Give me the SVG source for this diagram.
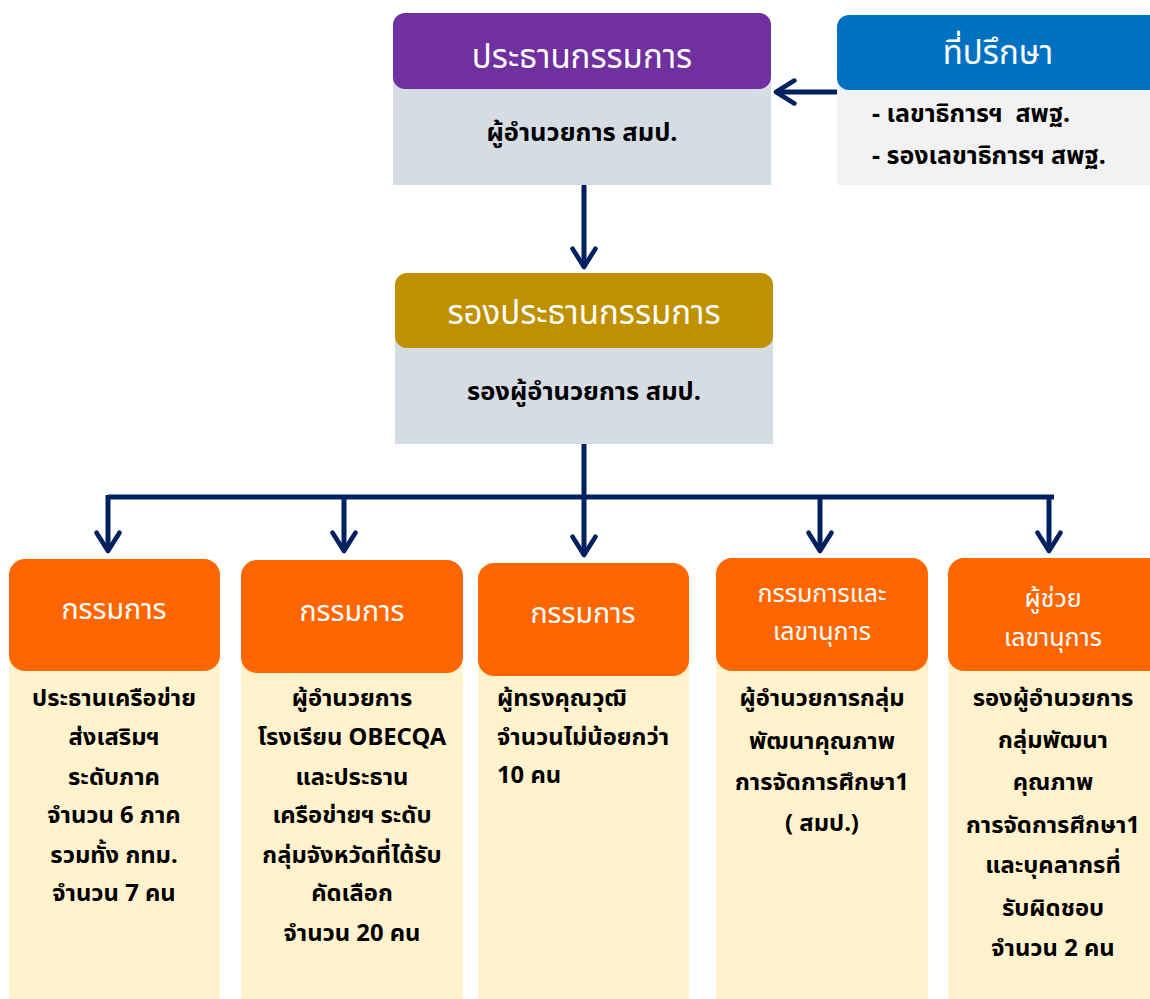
<svg xmlns="http://www.w3.org/2000/svg" width="1150" height="999" viewBox="0 0 1150 999">
<defs>
<style>
text{font-family:"Noto Sans","Noto Sans Thai","DejaVu Sans",sans-serif;}
.h{fill:#fff;font-size:33px;text-anchor:middle;}
.hs{fill:#fff;font-size:28.5px;text-anchor:middle;}
.hs2{fill:#fff;font-size:25px;text-anchor:middle;}
.t{fill:#000;font-size:25.5px;font-weight:bold;text-anchor:middle;}
.tl{fill:#000;font-size:25px;font-weight:bold;}
.b{fill:#000;font-size:23.8px;font-weight:bold;text-anchor:middle;}
.bl{fill:#000;font-size:23.8px;font-weight:bold;}
.c{fill:none;stroke:#002060;stroke-width:5;}
.bodyg{fill:#D6DCE4;}
.bodyy{fill:#FFF2CC;}
.org{fill:#FF6600;}
</style>
<marker id="ah" viewBox="0 0 12 12" refX="9" refY="6" markerWidth="5.5" markerHeight="5.5" orient="auto" markerUnits="strokeWidth">
<path d="M1,1 L9,6 L1,11" fill="none" stroke="#002060" stroke-width="2" stroke-linecap="round" stroke-linejoin="round"/>
</marker>
</defs>
<rect width="1150" height="999" fill="#fff"/>
<g id="connectors">
<path class="c" d="M837,92 L776,92" marker-end="url(#ah)"/>
<path class="c" d="M584,185 L584,267" marker-end="url(#ah)"/>
<path class="c" d="M584,444 L584,555" marker-end="url(#ah)"/>
<path class="c" d="M108,497 L1054,497"/>
<path class="c" d="M108,495 L108,551" marker-end="url(#ah)"/>
<path class="c" d="M344,495 L344,551" marker-end="url(#ah)"/>
<path class="c" d="M820,495 L820,551" marker-end="url(#ah)"/>
<path class="c" d="M1049,495 L1049,551" marker-end="url(#ah)"/>
</g>
<g id="chair">
<rect class="bodyg" x="393" y="60" width="378" height="125"/>
<rect x="393" y="13" width="378" height="76" rx="12" fill="#7030A0"/>
<text class="h" x="582" y="68">ประธานกรรมการ</text>
<text class="t" x="582" y="141">ผู้อำนวยการ สมป.</text>
</g>
<g id="advisor">
<rect x="837" y="60" width="313" height="125" fill="#F2F2F2"/>
<rect x="837" y="15" width="330" height="75" rx="12" fill="#0070C0"/>
<text class="h" x="998" y="64">ที่ปรึกษา</text>
<text class="tl" x="872" y="122" xml:space="preserve">- เลขาธิการฯ  สพฐ.</text>
<text class="tl" x="872" y="164">- รองเลขาธิการฯ สพฐ.</text>
</g>
<g id="vicechair">
<rect class="bodyg" x="395" y="320" width="378" height="124"/>
<rect x="395" y="273" width="378" height="75" rx="12" fill="#BF9000"/>
<text class="h" x="584" y="324">รองประธานกรรมการ</text>
<text class="t" x="584" y="400">รองผู้อำนวยการ สมป.</text>
</g>
<g id="member1">
<rect class="bodyy" x="9" y="640" width="211" height="359"/>
<rect class="org" x="9" y="559" width="211" height="112" rx="16"/>
<text class="hs" x="114" y="619">กรรมการ</text>
<text class="b" x="114" y="706">ประธานเครือข่าย</text>
<text class="b" x="114" y="745">ส่งเสริมฯ</text>
<text class="b" x="114" y="785">ระดับภาค</text>
<text class="b" x="114" y="823">จำนวน 6 ภาค</text>
<text class="b" x="114" y="863">รวมทั้ง กทม.</text>
<text class="b" x="114" y="901">จำนวน 7 คน</text>
</g>
<g id="member2">
<rect class="bodyy" x="241" y="640" width="222" height="359"/>
<rect class="org" x="241" y="560" width="222" height="113" rx="16"/>
<text class="hs" x="352" y="621">กรรมการ</text>
<text class="b" x="352" y="706">ผู้อำนวยการ</text>
<text class="b" x="352" y="745">โรงเรียน OBECQA</text>
<text class="b" x="352" y="785">และประธาน</text>
<text class="b" x="352" y="823">เครือข่ายฯ ระดับ</text>
<text class="b" x="352" y="863">กลุ่มจังหวัดที่ได้รับ</text>
<text class="b" x="352" y="901">คัดเลือก</text>
<text class="b" x="352" y="941">จำนวน 20 คน</text>
</g>
<g id="member3">
<rect class="bodyy" x="478" y="640" width="211" height="359"/>
<rect class="org" x="478" y="563" width="211" height="113" rx="16"/>
<text class="hs" x="583" y="623">กรรมการ</text>
<text class="bl" x="497" y="706">ผู้ทรงคุณวุฒิ</text>
<text class="bl" x="497" y="745">จำนวนไม่น้อยกว่า</text>
<text class="bl" x="497" y="783">10 คน</text>
</g>
<g id="secretary">
<rect class="bodyy" x="716" y="640" width="212" height="359"/>
<rect class="org" x="716" y="558" width="212" height="113" rx="16"/>
<text class="hs2" x="822" y="602">กรรมการและ</text>
<text class="hs2" x="822" y="640">เลขานุการ</text>
<text class="b" x="822" y="706">ผู้อำนวยการกลุ่ม</text>
<text class="b" x="822" y="749">พัฒนาคุณภาพ</text>
<text class="b" x="822" y="790">การจัดการศึกษา1</text>
<text class="b" x="822" y="831">( สมป.)</text>
</g>
<g id="assistant">
<rect class="bodyy" x="948" y="640" width="202" height="359"/>
<rect class="org" x="948" y="558" width="220" height="113" rx="16"/>
<text class="hs2" x="1053" y="607">ผู้ช่วย</text>
<text class="hs2" x="1053" y="646">เลขานุการ</text>
<text class="b" x="1053" y="706">รองผู้อำนวยการ</text>
<text class="b" x="1053" y="748">กลุ่มพัฒนา</text>
<text class="b" x="1053" y="790">คุณภาพ</text>
<text class="b" x="1053" y="833">การจัดการศึกษา1</text>
<text class="b" x="1053" y="873">และบุคลากรที่</text>
<text class="b" x="1053" y="916">รับผิดชอบ</text>
<text class="b" x="1053" y="956">จำนวน 2 คน</text>
</g>
</svg>
